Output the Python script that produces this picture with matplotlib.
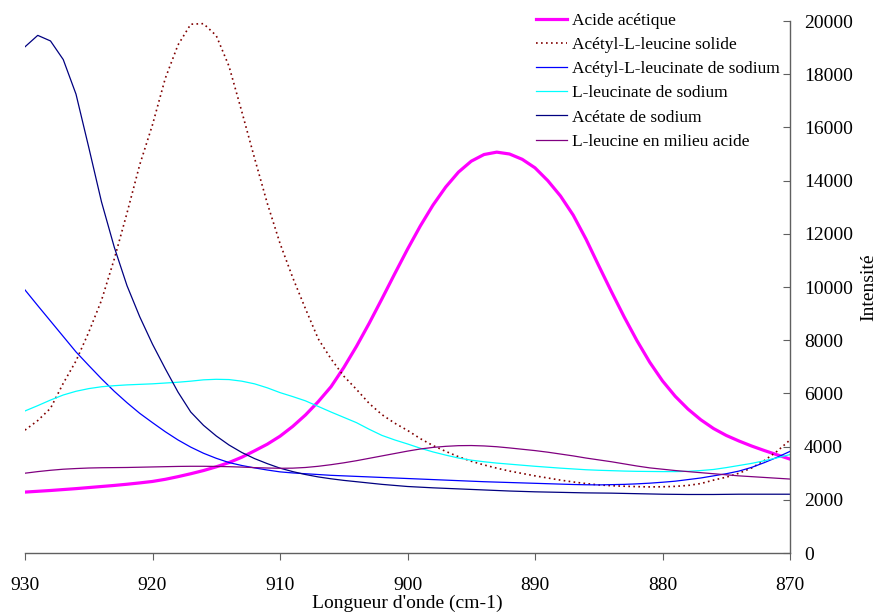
import matplotlib
matplotlib.use("Agg")
import matplotlib.pyplot as plt

plt.rcParams['font.family'] = ['Liberation Serif', 'DejaVu Serif']

wavenumber = list(range(930, 869, -1))

acide_acetique = [2290, 2320, 2350, 2385, 2420, 2460, 2500, 2540, 2585, 2635,
                  2690, 2770, 2870, 2980, 3100, 3240, 3400, 3600, 3840, 4090,
                  4390, 4760, 5190, 5690, 6250, 6970, 7770, 8640, 9560, 10500,
                  11420, 12290, 13080, 13760, 14320, 14730, 14980, 15070, 15000, 14800,
                  14480, 14000, 13420, 12700, 11800, 10800, 9820, 8870, 7980, 7170,
                  6470, 5890, 5410, 5010, 4680, 4420, 4210, 4020, 3850, 3690, 3530]
acetyl_leucine_solide = [4620, 4980, 5440, 6380, 7220, 8300, 9500, 11050, 12780, 14600,
                         16100, 17840, 19100, 19880, 19900, 19450, 18300, 16600, 14850, 13150,
                         11640, 10350, 9180, 8050, 7300, 6650, 6150, 5620, 5200, 4880,
                         4610, 4300, 4040, 3820, 3620, 3450, 3310, 3190, 3080, 2990,
                         2900, 2820, 2740, 2670, 2610, 2560, 2530, 2510, 2495, 2485,
                         2490, 2505, 2540, 2610, 2740, 2850, 3000, 3200, 3480, 3830, 4250]
acetyl_leucinate_sodium = [9890, 9300, 8720, 8140, 7560, 7050, 6550, 6080, 5650, 5250,
                           4900, 4560, 4250, 3980, 3750, 3560, 3400, 3290, 3200, 3120,
                           3050, 3010, 2980, 2950, 2920, 2900, 2880, 2860, 2840, 2820,
                           2800, 2780, 2760, 2740, 2720, 2700, 2680, 2665, 2650, 2635,
                           2620, 2605, 2590, 2575, 2565, 2560, 2570, 2580, 2600, 2625,
                           2660, 2700, 2760, 2820, 2900, 2980, 3080, 3220, 3400, 3600, 3820]
leucinate_sodium = [5340, 5540, 5750, 5940, 6080, 6180, 6250, 6290, 6320, 6340,
                    6360, 6390, 6420, 6460, 6510, 6530, 6520, 6460, 6360, 6210,
                    6030, 5880, 5720, 5510, 5300, 5100, 4900, 4650, 4420, 4250,
                    4100, 3940, 3800, 3680, 3570, 3490, 3430, 3380, 3340, 3300,
                    3260, 3225, 3190, 3160, 3130, 3110, 3095, 3080, 3070, 3065,
                    3060, 3060, 3070, 3100, 3140, 3210, 3290, 3370, 3470, 3580, 3700]
acetate_sodium = [19030, 19460, 19250, 18550, 17250, 15250, 13200, 11500, 10050, 8880,
                  7850, 6930, 6050, 5300, 4800, 4400, 4060, 3780, 3550, 3360,
                  3190, 3060, 2950, 2860, 2790, 2730, 2680, 2630, 2580, 2540,
                  2500, 2475, 2450, 2430, 2410, 2390, 2370, 2350, 2330, 2315,
                  2300, 2290, 2280, 2270, 2260, 2255, 2250, 2240, 2230, 2220,
                  2210, 2205, 2200, 2200, 2200, 2205, 2210, 2210, 2210, 2210, 2210]
leucine_acide = [3000, 3060, 3110, 3150, 3175, 3195, 3205, 3210, 3215, 3225,
                 3235, 3245, 3255, 3260, 3260, 3255, 3245, 3230, 3210, 3195,
                 3185, 3190, 3215, 3260, 3320, 3390, 3470, 3560, 3650, 3740,
                 3830, 3910, 3970, 4010, 4035, 4040, 4025, 3995, 3950, 3900,
                 3850, 3790, 3720, 3650, 3570, 3500, 3430, 3350, 3270, 3200,
                 3150, 3100, 3060, 3020, 2980, 2940, 2900, 2870, 2840, 2810, 2780]

labels = ["Acide acétique", "Acétyl-L-leucine solide", "Acétyl-L-leucinate de sodium",
          "L-leucinate de sodium", "Acétate de sodium", "L-leucine en milieu acide"]
x_ticks = [930, 920, 910, 900, 890, 880, 870]
y_ticks = list(range(0, 20001, 2000))

fig = plt.figure(figsize=(8.8, 6.13), dpi=100)
ax = fig.add_axes([25/880, 60/613, 765/880, 532/613])

ax.plot(wavenumber, acide_acetique, color='#FF00FF', lw=2.3, label=labels[0])
ax.plot(wavenumber, acetyl_leucine_solide, color='#800000', lw=1.2, ls=(0, (1, 2)), label=labels[1])
ax.plot(wavenumber, acetyl_leucinate_sodium, color='#0000FF', lw=0.9, label=labels[2])
ax.plot(wavenumber, leucinate_sodium, color='#00FFFF', lw=0.9, label=labels[3])
ax.plot(wavenumber, acetate_sodium, color='#000080', lw=0.9, label=labels[4])
ax.plot(wavenumber, leucine_acide, color='#800080', lw=0.9, label=labels[5])

ax.set_xlim(930, 870)
ax.set_ylim(0, 20000)
ax.set_xticks(x_ticks)
ax.set_yticks(y_ticks)
ax.yaxis.tick_right()
ax.yaxis.set_label_position('right')
for s in ['top', 'left']:
    ax.spines[s].set_visible(False)
for s in ['right', 'bottom']:
    ax.spines[s].set_color('#606060')
    ax.spines[s].set_linewidth(1.0)
ax.tick_params(axis='y', direction='in', length=5, labelsize=14, pad=10, color='#606060')
ax.tick_params(axis='x', direction='out', length=5, labelsize=14, pad=12, color='#606060')
ax.set_xlabel("Longueur d'onde (cm-1)", fontsize=14, labelpad=1)
ax.set_ylabel("Intensité", fontsize=14, labelpad=5)

leg = ax.legend(loc='upper right', bbox_to_anchor=(1.0, 1.035), frameon=False, fontsize=12.5,
                handlelength=1.75, handletextpad=0.3, labelspacing=0.46, borderaxespad=0.2)

fig.savefig('out.png', dpi=100)
